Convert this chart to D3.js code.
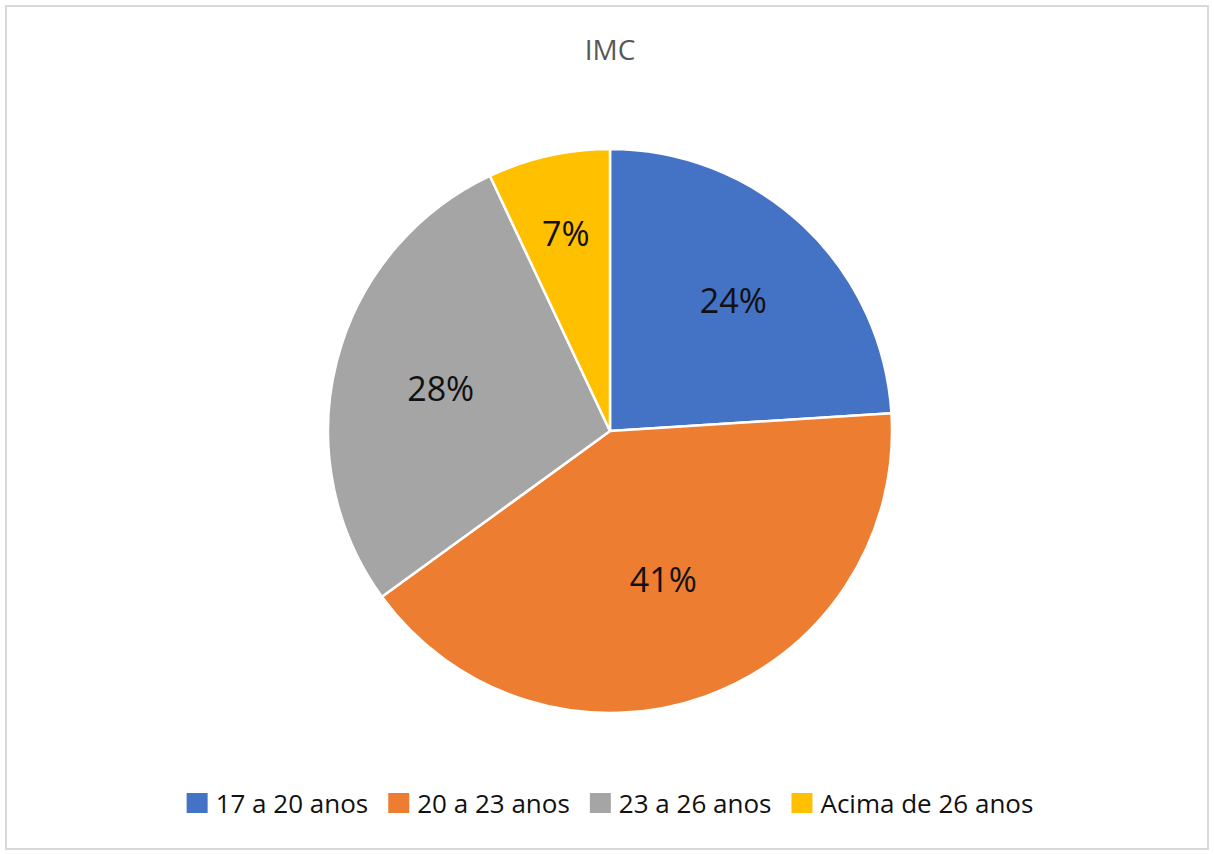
<!DOCTYPE html>
<html>
<head>
<meta charset="utf-8">
<script src="https://cdn.jsdelivr.net/npm/d3@7"></script>
<style>
  html, body { margin: 0; padding: 0; background: #fff; }
  svg { display: block; }
  text { font-family: "Open Sans", "Noto Sans", sans-serif; }
</style>
</head>
<body>
<svg id="chart" width="1214" height="854"></svg>
<script>
// Age groups and their shares of the IMC chart
const categories = ["17 a 20 anos", "20 a 23 anos", "23 a 26 anos", "Acima de 26 anos"];
const values = [24, 41, 28, 7];
const colors = ["#4472C4", "#ED7D31", "#A5A5A5", "#FFC000"];
const title = "IMC";

const W = 1214, H = 854;
const svg = d3.select("#chart");

// Outer frame
svg.append("rect")
  .attr("x", 6).attr("y", 6)
  .attr("width", W - 12).attr("height", H - 11)
  .attr("fill", "#fff")
  .attr("stroke", "#d9d9d9")
  .attr("stroke-width", 2);

// Title
svg.append("text")
  .attr("x", 610).attr("y", 60)
  .attr("text-anchor", "middle")
  .attr("font-size", 28)
  .attr("fill", "#595959")
  .text(title);

// Pie
const cx = 610, cy = 431, R = 282;
const total = d3.sum(values);
const pie = d3.pie().sort(null).value(d => d)(values);
const arc = d3.arc().innerRadius(0).outerRadius(R);

const g = svg.append("g").attr("transform", `translate(${cx},${cy})`);

g.selectAll("path.slice")
  .data(pie)
  .join("path")
  .attr("class", "slice")
  .attr("d", arc)
  .attr("fill", (d, i) => colors[i])
  .attr("stroke", "#fff")
  .attr("stroke-width", 2.5)
  .attr("stroke-linejoin", "round");

// Data labels: smaller slices get their label pushed further out
g.selectAll("text.lbl")
  .data(pie)
  .join("text")
  .attr("class", "lbl")
  .attr("transform", d => {
    const frac = d.value / total;
    const r = R * (0.634 - 0.475 * (frac - 0.25));
    const la = d3.arc().innerRadius(r).outerRadius(r);
    const [x, y] = la.centroid(d);
    return `translate(${x},${y})`;
  })
  .attr("text-anchor", "middle")
  .attr("dominant-baseline", "central")
  .attr("font-size", 34)
  .attr("fill", "#111")
  .text(d => d.value + "%");

// Legend
const legend = svg.append("g").attr("transform", "translate(0,803)");
const item = legend.selectAll("g.item")
  .data(categories)
  .join("g")
  .attr("class", "item");

item.append("rect")
  .attr("y", -10)
  .attr("width", 21).attr("height", 20)
  .attr("fill", (d, i) => colors[i]);

item.append("text")
  .attr("x", 29)
  .attr("dominant-baseline", "central")
  .attr("font-size", 26)
  .attr("fill", "#111")
  .text(d => d);

// Lay the legend items out in a centred row
const gap = 20;
const widths = [];
item.each(function () { widths.push(this.getBBox().width); });
const totalW = d3.sum(widths) + gap * (widths.length - 1);
let xpos = 610 - totalW / 2;
item.attr("transform", (d, i) => {
  const t = `translate(${xpos},0)`;
  xpos += widths[i] + gap;
  return t;
});
</script>
</body>
</html>
